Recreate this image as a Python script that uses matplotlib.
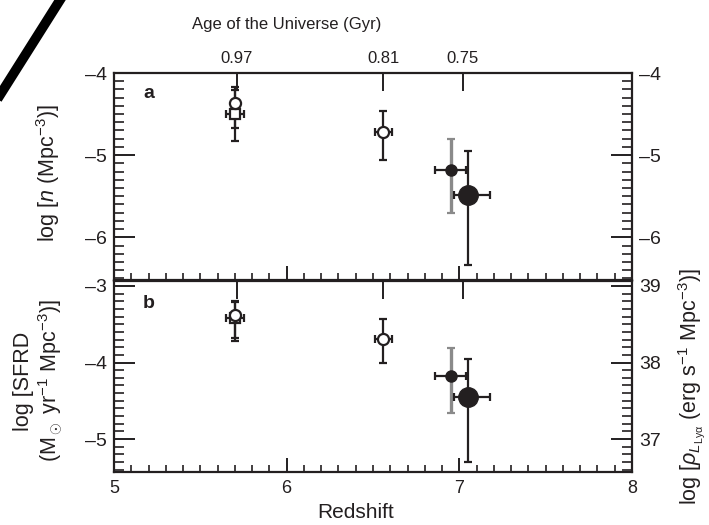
import matplotlib
matplotlib.use("Agg")
import matplotlib.pyplot as plt
from matplotlib.lines import Line2D
from matplotlib.ticker import MultipleLocator, FixedLocator, FuncFormatter

plt.rcParams['font.family'] = ['Liberation Sans', 'DejaVu Sans']
plt.rcParams['mathtext.fontset'] = 'custom'
plt.rcParams['mathtext.rm'] = 'Liberation Sans'
plt.rcParams['mathtext.it'] = 'Liberation Sans:italic'
plt.rcParams['mathtext.bf'] = 'Liberation Sans:bold'

# ---- data ----
# open circle at z=5.7
oc57_z = [5.7]
a_oc57 = [-4.37]; a_oc57_lo = [0.30]; a_oc57_hi = [0.16]
b_oc57 = [-3.38]; b_oc57_lo = [0.30]; b_oc57_hi = [0.17]
# open square at z=5.7
sq57_z = [5.7]; sq57_zerr = [0.05]
a_sq57 = [-4.50]; a_sq57_lo = [0.33]; a_sq57_hi = [0.33]
b_sq57 = [-3.42]; b_sq57_lo = [0.30]; b_sq57_hi = [0.22]
# open circle at z=6.56
oc66_z = [6.56]; oc66_zerr = [0.05]
a_oc66 = [-4.72]; a_oc66_lo = [0.34]; a_oc66_hi = [0.26]
b_oc66 = [-3.69]; b_oc66_lo = [0.32]; b_oc66_hi = [0.26]
# small filled circle at z=6.95
sf_z = [6.95]; sf_zlo = [0.09]; sf_zhi = [0.09]
a_sf = [-5.18]; a_sf_lo = [0.53]; a_sf_hi = [0.38]
b_sf = [-4.17]; b_sf_lo = [0.49]; b_sf_hi = [0.36]
# large filled circle at z=7.05
lf_z = [7.05]; lf_zlo = [0.08]; lf_zhi = [0.13]
a_lf = [-5.49]; a_lf_lo = [0.85]; a_lf_hi = [0.54]
b_lf = [-4.45]; b_lf_lo = [0.85]; b_lf_hi = [0.49]

age_tick_z = [5.71, 6.56, 7.02]
age_labels = ['0.97', '0.81', '0.75']

dark = '#231f20'
grey = '#8a8a8a'

fig = plt.figure(figsize=(7.09, 5.25), dpi=100)
ax_a = fig.add_axes([114/709, 1-280/525, 518/709, 207/525])
ax_b = fig.add_axes([114/709, 1-472/525, 518/709, 191/525])

dash_fmt = FuncFormatter(lambda v, p: '\u2013%d' % abs(round(v)) if v < 0 else '%d' % round(v))

def style_y(ax):
    ax.yaxis.set_major_locator(MultipleLocator(1))
    ax.yaxis.set_minor_locator(MultipleLocator(0.1))
    ax.yaxis.set_major_formatter(dash_fmt)
    ax.tick_params(axis='y', which='major', direction='in', length=15, width=1.4,
                   labelsize=14, colors=dark, pad=5)
    ax.tick_params(axis='y', which='minor', direction='in', length=7, width=1.2, colors=dark)

for ax, ylim in [(ax_a, (-6.52, -4.0)), (ax_b, (-5.43, -2.935))]:
    ax.set_xlim(5, 8)
    ax.set_ylim(*ylim)
    for s in ax.spines.values():
        s.set_linewidth(1.6)
        s.set_color(dark)
    ax.xaxis.set_major_locator(MultipleLocator(1))
    ax.xaxis.set_minor_locator(MultipleLocator(0.1))
    ax.tick_params(axis='x', which='major', direction='in', length=10, width=1.4,
                   labelsize=13, colors=dark, top=False, pad=6)
    ax.tick_params(axis='x', which='minor', direction='in', length=5, width=1.2,
                   colors=dark, top=False)
    style_y(ax)
    ax.tick_params(axis='y', which='both', right=False)
    # twin right
    tx = ax.twinx()
    off = 0 if ax is ax_a else 42
    tx.set_ylim(ylim[0] + off, ylim[1] + off)
    style_y(tx)
    tx.tick_params(axis='y', which='both', left=False, right=True, labelright=True)
    for s in tx.spines.values():
        s.set_visible(False)
    # twin top (age)
    ty = ax.twiny()
    ty.set_xlim(5, 8)
    ty.xaxis.set_major_locator(FixedLocator(age_tick_z))
    ty.xaxis.set_minor_locator(FixedLocator([]))
    ty.tick_params(axis='x', which='major', direction='in', length=13, width=1.4,
                   labelsize=12, colors=dark, pad=5)
    for s in ty.spines.values():
        s.set_visible(False)
    if ax is ax_a:
        ty.set_xticklabels(age_labels)
    else:
        ty.set_xticklabels([])

ax_a.tick_params(axis='x', labelbottom=False)

ekw = dict(capsize=3, capthick=1.6, elinewidth=1.6, ecolor=dark, linestyle='none', zorder=3)

def draw(ax, oc57, oc57e, sq57, sq57e, oc66, oc66e, sf, sfe, lf, lfe):
    ax.errorbar(sq57_z, sq57, yerr=sq57e, xerr=[sq57_zerr, sq57_zerr], marker='s', ms=7,
                mfc='white', mec=dark, mew=1.6, **ekw)
    ax.errorbar(oc57_z, oc57, yerr=oc57e, marker='o', ms=8,
                mfc='white', mec=dark, mew=1.6, **ekw)
    ax.errorbar(oc66_z, oc66, yerr=oc66e, xerr=[oc66_zerr, oc66_zerr], marker='o', ms=8,
                mfc='white', mec=dark, mew=1.6, **ekw)
    # small filled: grey vertical, dark horizontal
    ax.errorbar(sf_z, sf, yerr=sfe, marker='none', capsize=3, capthick=1.6,
                elinewidth=2.4, ecolor=grey, linestyle='none', zorder=2)
    ax.errorbar(sf_z, sf, xerr=[sf_zlo, sf_zhi], marker='o', ms=8,
                mfc=dark, mec=dark, **ekw)
    ax.errorbar(lf_z, lf, yerr=lfe, xerr=[lf_zlo, lf_zhi], marker='o', ms=14,
                mfc=dark, mec=dark, **ekw)

draw(ax_a, a_oc57, [a_oc57_lo, a_oc57_hi], a_sq57, [a_sq57_lo, a_sq57_hi],
     a_oc66, [a_oc66_lo, a_oc66_hi], a_sf, [a_sf_lo, a_sf_hi], a_lf, [a_lf_lo, a_lf_hi])
draw(ax_b, b_oc57, [b_oc57_lo, b_oc57_hi], b_sq57, [b_sq57_lo, b_sq57_hi],
     b_oc66, [b_oc66_lo, b_oc66_hi], b_sf, [b_sf_lo, b_sf_hi], b_lf, [b_lf_lo, b_lf_hi])

fig.text(149/709, 1-94/525, 'a', fontsize=14, fontweight='bold', color=dark,
         ha='center', va='center')
fig.text(149/709, 1-303/525, 'b', fontsize=14, fontweight='bold', color=dark,
         ha='center', va='center')

fig.text(287/709, 1-24/525, 'Age of the Universe (Gyr)', fontsize=12, color=dark,
         ha='center', va='center')
fig.text(356/709, 1-513/525, 'Redshift', fontsize=15, color=dark, ha='center', va='center')
fig.text(48/709, 1-173/525, r'log [$n$ (Mpc$^{-3}$)]', rotation=90, fontsize=15.5,
         color=dark, ha='center', va='center')
fig.text(39/709, 1-381/525, 'log [SFRD\n' + r'(M$_\odot$ yr$^{-1}$ Mpc$^{-3}$)]', rotation=90,
         fontsize=15.5, color=dark, ha='center', va='center', linespacing=1.1,
         multialignment='center')
fig.text(692/709, 1-387/525, r'log [$\rho_{L_{\rm Ly\alpha}}$ (erg s$^{-1}$ Mpc$^{-3}$)]',
         rotation=90, fontsize=15.5, color=dark, ha='center', va='center')

fig.add_artist(Line2D([0/709, 60/709], [1-95/525, 1.0], color='black', lw=7,
                      transform=fig.transFigure))

fig.savefig('out.png', dpi=100)
